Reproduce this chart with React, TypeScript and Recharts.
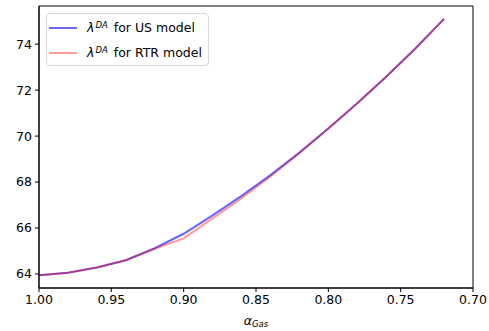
import React from "react";
import {
  LineChart,
  Line,
  XAxis,
  YAxis,
  Legend,
  ReferenceArea,
} from "recharts";

// alpha_Gas values
const alphaGas = [1.0, 0.98, 0.96, 0.94, 0.92, 0.9, 0.88, 0.86, 0.84, 0.82, 0.8, 0.78, 0.76, 0.74, 0.72];
const usModel = [63.95, 64.05, 64.28, 64.6, 65.12, 65.75, 66.55, 67.4, 68.3, 69.28, 70.33, 71.43, 72.58, 73.8, 75.1];
const rtrModel = [63.95, 64.05, 64.28, 64.6, 65.1, 65.55, 66.42, 67.3, 68.24, 69.26, 70.33, 71.43, 72.58, 73.8, 75.1];

const xTicks = [1.0, 0.95, 0.9, 0.85, 0.8, 0.75, 0.7];
const yTicks = [64, 66, 68, 70, 72, 74];

const X_DOMAIN = [0.7, 1.0];
const Y_DOMAIN = [63.39, 75.66];

const data = alphaGas.map((a, i) => ({ a, us: usModel[i], rtr: rtrModel[i] }));

const FONT = "'DejaVu Sans', sans-serif";
const FS = 12.5;

const series = [
  { key: "us", label: "for US model", color: "rgba(0,0,255,0.6)" },
  { key: "rtr", label: "for RTR model", color: "rgba(255,0,0,0.4)" },
];

const LegendBox = () => (
  <div
    style={{
      position: "absolute",
      left: 46,
      top: 13,
      border: "1px solid #d6d6d6",
      borderRadius: 4,
      background: "rgba(255,255,255,0.8)",
      padding: "1px 6px 0 2px",
      fontFamily: FONT,
      fontSize: FS,
      color: "#000",
    }}
  >
    {series.map((s) => (
      <div key={s.key} style={{ display: "flex", alignItems: "center", height: 25, whiteSpace: "nowrap" }}>
        <div style={{ width: 28, height: 2, background: s.color, marginRight: 10 }} />
        <span>
          <span style={{ fontStyle: "italic" }}>λ</span>
          <sup style={{ fontSize: 8.5, fontStyle: "italic", verticalAlign: 4, marginLeft: 1, marginRight: 6 }}>DA</sup>
          {s.label}
        </span>
      </div>
    ))}
  </div>
);

const XLabel = (props: any) => {
  const vb = props.viewBox || {};
  const cx = vb.x + vb.width / 2;
  return (
    <text x={cx} y={325} textAnchor="middle" fontFamily={FONT} fill="#000">
      <tspan fontSize={FS} fontStyle="italic">α</tspan>
      <tspan fontSize={8.5} fontStyle="italic" dy={2}>Gas</tspan>
    </text>
  );
};

const tickStyle = { fontFamily: FONT, fontSize: FS, fill: "#000" };

export default function App() {
  return (
    <div style={{ position: "absolute", left: 0, top: 0, background: "#fff" }}>
      <LineChart width={489} height={331} data={data} margin={{ top: 6, right: 16, left: 0, bottom: 0 }}>
        <XAxis
          dataKey="a"
          type="number"
          domain={X_DOMAIN}
          reversed
          ticks={xTicks}
          tickFormatter={(v: number) => v.toFixed(2)}
          tick={tickStyle}
          tickSize={4}
          tickMargin={3}
          height={43}
          stroke="#000"
          allowDataOverflow
          label={<XLabel />}
        />
        <YAxis
          type="number"
          domain={Y_DOMAIN}
          ticks={yTicks}
          tick={tickStyle}
          tickSize={4}
          tickMargin={3}
          width={39}
          stroke="#000"
          allowDataOverflow
        />
        {/* box around the plot, like matplotlib spines */}
        <ReferenceArea
          x1={X_DOMAIN[0]}
          x2={X_DOMAIN[1]}
          y1={Y_DOMAIN[0]}
          y2={Y_DOMAIN[1]}
          fill="none"
          stroke="#000"
          strokeWidth={1}
          ifOverflow="visible"
        />
        <Legend content={<LegendBox />} wrapperStyle={{ position: "absolute", left: 0, top: 0, width: 0, height: 0 }} />
        {series.map((s) => (
          <Line
            key={s.key}
            dataKey={s.key}
            type="linear"
            stroke={s.color}
            strokeWidth={2}
            dot={false}
            isAnimationActive={false}
          />
        ))}
      </LineChart>
    </div>
  );
}
